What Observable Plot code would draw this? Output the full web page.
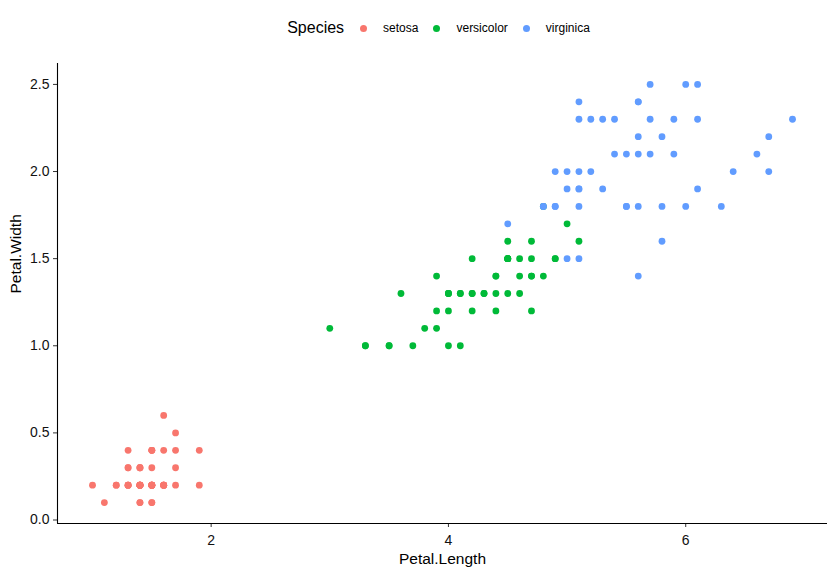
<!DOCTYPE html>
<html>
<head>
<meta charset="utf-8">
<script src="https://cdn.jsdelivr.net/npm/d3@7"></script>
<script src="https://cdn.jsdelivr.net/npm/@observablehq/plot@0.6"></script>
<style>
  body { margin: 0; background: #fff; font-family: "Liberation Sans", Arial, sans-serif; }
  #legend { height: 56px; display: flex; align-items: center; justify-content: center; padding-left: 42px; color: #000; }
  #legend .title { font-size: 16px; margin-right: 16px; }
  #legend .item { display: flex; align-items: center; font-size: 12px; margin-right: 15px; }
  #legend .item:last-child { margin-right: 0; }
  #legend .dot { width: 7px; height: 7px; border-radius: 50%; margin-right: 16px; }
  #chart svg text { font-family: "Liberation Sans", Arial, sans-serif; }
</style>
</head>
<body>
<div id="legend"></div>
<div id="chart"></div>
<script>
const species = ["setosa", "versicolor", "virginica"];
const colors = ["#F8766D", "#00BA38", "#619CFF"];

const setosaLength = [1.4,1.4,1.3,1.5,1.4,1.7,1.4,1.5,1.4,1.5,1.5,1.6,1.4,1.1,1.2,1.5,1.3,1.4,1.7,1.5,1.7,1.5,1.0,1.7,1.9,1.6,1.6,1.5,1.4,1.6,1.6,1.5,1.5,1.4,1.5,1.2,1.3,1.4,1.3,1.5,1.3,1.3,1.3,1.6,1.9,1.4,1.6,1.4,1.5,1.4];
const setosaWidth = [0.2,0.2,0.2,0.2,0.2,0.4,0.3,0.2,0.2,0.1,0.2,0.2,0.1,0.1,0.2,0.4,0.4,0.3,0.3,0.3,0.2,0.4,0.2,0.5,0.2,0.2,0.4,0.2,0.2,0.2,0.2,0.4,0.1,0.2,0.2,0.2,0.2,0.1,0.2,0.2,0.3,0.3,0.2,0.6,0.4,0.3,0.2,0.2,0.2,0.2];
const versicolorLength = [4.7,4.5,4.9,4.0,4.6,4.5,4.7,3.3,4.6,3.9,3.5,4.2,4.0,4.7,3.6,4.4,4.5,4.1,4.5,3.9,4.8,4.0,4.9,4.7,4.3,4.4,4.8,5.0,4.5,3.5,3.8,3.7,3.9,5.1,4.5,4.5,4.7,4.4,4.1,4.0,4.4,4.6,4.0,3.3,4.2,4.2,4.2,4.3,3.0,4.1];
const versicolorWidth = [1.4,1.5,1.5,1.3,1.5,1.3,1.6,1.0,1.3,1.4,1.0,1.5,1.0,1.4,1.3,1.4,1.5,1.0,1.5,1.1,1.8,1.3,1.5,1.2,1.3,1.4,1.4,1.7,1.5,1.0,1.1,1.0,1.2,1.6,1.5,1.6,1.5,1.3,1.3,1.3,1.2,1.4,1.2,1.0,1.3,1.2,1.3,1.3,1.1,1.3];
const virginicaLength = [6.0,5.1,5.9,5.6,5.8,6.6,4.5,6.3,5.8,6.1,5.1,5.3,5.5,5.0,5.1,5.3,5.5,6.7,6.9,5.0,5.7,4.9,6.7,4.9,5.7,6.0,4.8,4.9,5.6,5.8,6.1,6.4,5.6,5.1,5.6,6.1,5.6,5.5,4.8,5.4,5.6,5.1,5.1,5.9,5.7,5.2,5.0,5.2,5.4,5.1];
const virginicaWidth = [2.5,1.9,2.1,1.8,2.2,2.1,1.7,1.8,1.8,2.5,2.0,1.9,2.1,2.0,2.4,2.3,1.8,2.2,2.3,1.5,2.3,2.0,2.0,1.8,2.1,1.8,1.8,1.8,2.1,1.6,1.9,2.0,2.2,1.5,1.4,2.3,2.4,1.8,1.8,2.1,2.4,2.3,1.9,2.3,2.5,2.3,1.9,2.0,2.3,1.8];

const xTicks = [2, 4, 6];
const yTicks = [0.0, 0.5, 1.0, 1.5, 2.0, 2.5];

const lengths = [setosaLength, versicolorLength, virginicaLength];
const widths = [setosaWidth, versicolorWidth, virginicaWidth];
const data = [];
species.forEach((s, i) => lengths[i].forEach((l, j) => data.push({Species: s, "Petal.Length": l, "Petal.Width": widths[i][j]})));

// ggplot-style 5% expansion
const xmin = d3.min(data, d => d["Petal.Length"]), xmax = d3.max(data, d => d["Petal.Length"]);
const ymin = d3.min(data, d => d["Petal.Width"]), ymax = d3.max(data, d => d["Petal.Width"]);
const xDom = [xmin - 0.05 * (xmax - xmin), xmax + 0.05 * (xmax - xmin)];
const yDom = [ymin - 0.05 * (ymax - ymin), ymax + 0.05 * (ymax - ymin)];

// legend
const leg = document.getElementById("legend");
leg.innerHTML = `<span class="title">Species</span>` + species.map((s, i) =>
  `<span class="item"><span class="dot" style="background:${colors[i]}"></span>${s}</span>`).join("");

const chart = Plot.plot({
  width: 835,
  height: 519,
  marginTop: 7,
  marginBottom: 52,
  marginLeft: 57,
  marginRight: 8,
  style: { fontFamily: "'Liberation Sans', Arial, sans-serif", fontSize: "14px", color: "#000", background: "#fff" },
  x: { domain: xDom },
  y: { domain: yDom },
  color: { domain: species, range: colors },
  marks: [
    Plot.axisX({ ticks: xTicks, tickSize: 4, tickPadding: 8, tickFormat: d3.format("d"), fontSize: 14, stroke: "#333", fill: "#111", label: null }),
    Plot.axisY({ ticks: yTicks, tickSize: 4, tickPadding: 4, tickFormat: d3.format(".1f"), fontSize: 14, stroke: "#333", fill: "#111", label: null }),
    Plot.text(["Petal.Length"], { frameAnchor: "bottom", dy: 29, text: d => d, fontSize: 15.5, fill: "#000", lineAnchor: "top" }),
    Plot.text(["Petal.Width"], { frameAnchor: "left", dx: -41, rotate: -90, text: d => d, fontSize: 15.5, fill: "#000", lineAnchor: "middle" }),
    Plot.ruleY([yDom[0]], { stroke: "#000", strokeWidth: 1.1 }),
    Plot.ruleX([xDom[0]], { stroke: "#000", strokeWidth: 1.1 }),
    Plot.dot(data, { x: "Petal.Length", y: "Petal.Width", fill: "Species", r: 3.4, stroke: null })
  ]
});
document.getElementById("chart").appendChild(chart);
</script>
</body>
</html>
